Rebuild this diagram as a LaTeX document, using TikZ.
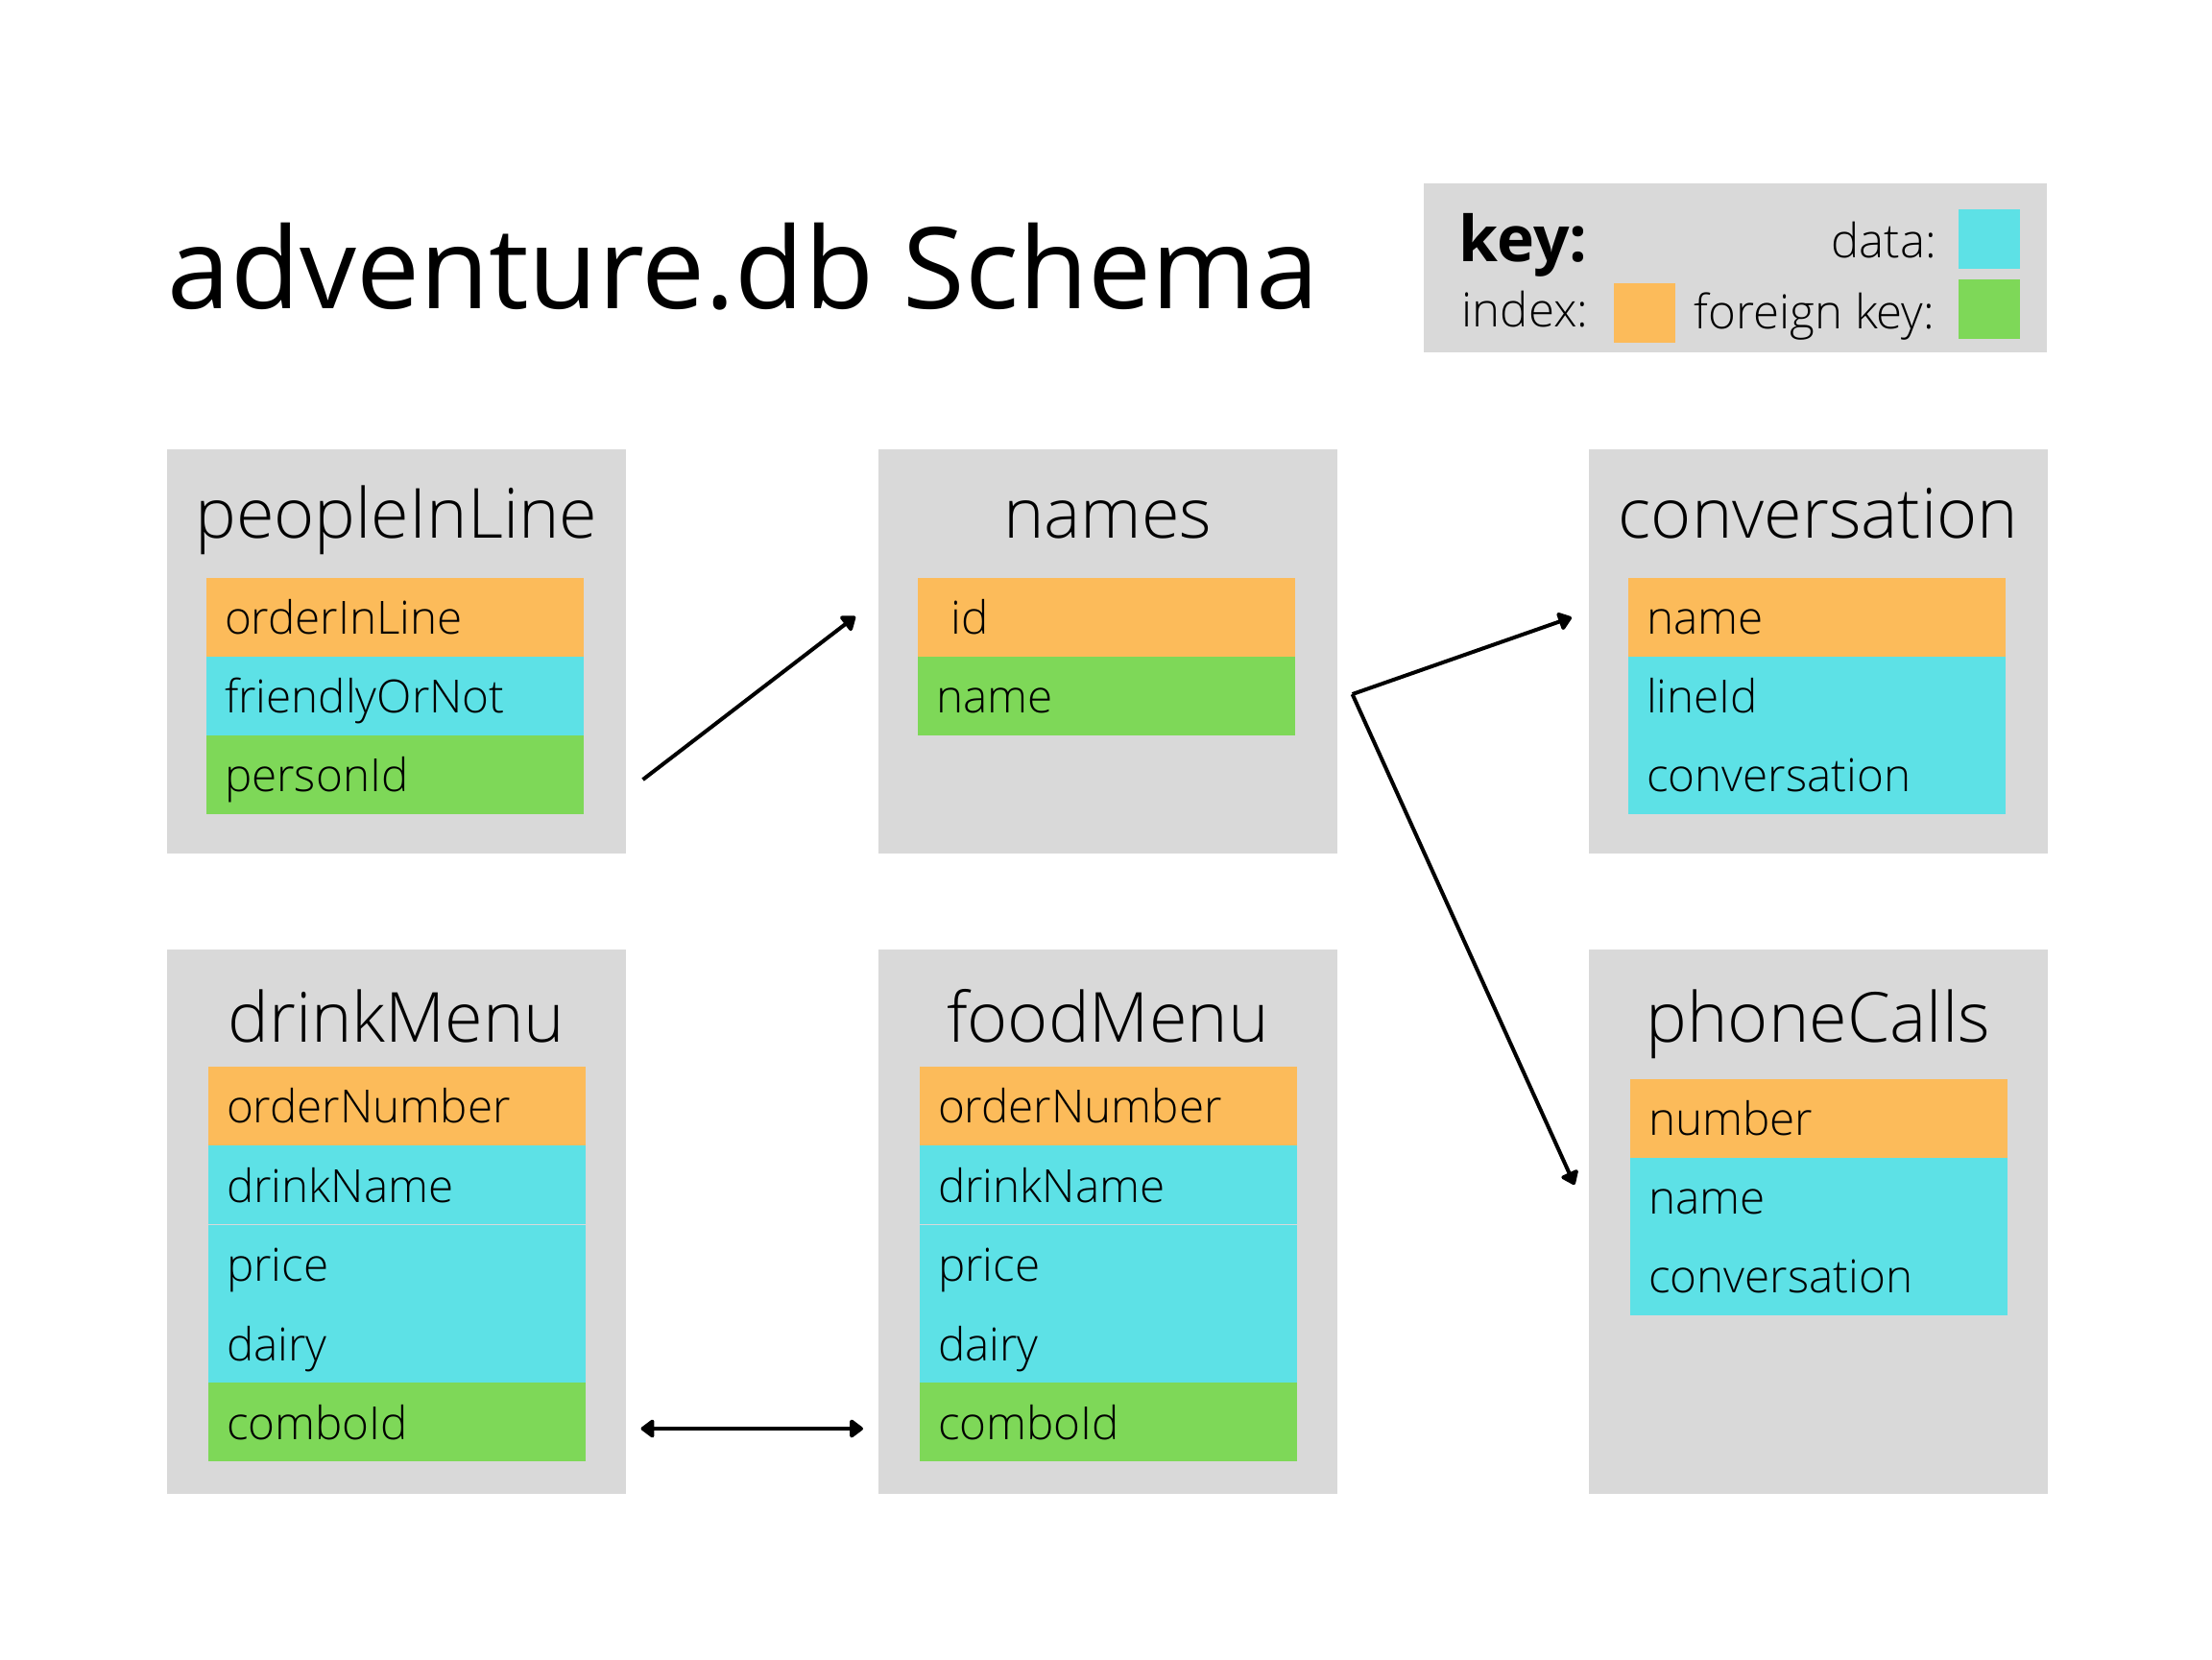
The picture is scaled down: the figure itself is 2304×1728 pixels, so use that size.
\documentclass[tikz,border=0pt]{standalone}
\usepackage{fontspec}
\setmainfont{Open Sans}
\newfontfamily\lightfont{Open Sans Light}
\usetikzlibrary{calc, arrows.meta}
\definecolor{boxgray}{HTML}{D9D9D9}
\definecolor{indexcolor}{HTML}{FCBB5A}
\definecolor{datacolor}{HTML}{5DE1E6}
\definecolor{fkeycolor}{HTML}{7ED858}

\begin{document}
\begin{tikzpicture}[x=0.25pt, y=-0.25pt,
    tablebox/.style={fill=boxgray, inner sep=0pt, anchor=north west, minimum width=119.5pt},
    tabletitle/.style={anchor=base, inner sep=0pt, font=\lightfont\fontsize{18}{20}\selectfont},
    field/.style={anchor=north west, inner xsep=4.8pt, inner ysep=0pt, minimum height=20.5pt,
        text width=88.65pt, align=left, text height=12pt, text depth=3pt,
        font=\lightfont\fontsize{11.9}{14}\selectfont},
    keytext/.style={inner sep=0pt, font=\lightfont\fontsize{12.3}{14}\selectfont},
    swatch/.style={anchor=north west, inner sep=0pt, minimum width=16pt, minimum height=15.5pt},
    link/.style={line width=1pt},
    >={Triangle[round, length=3.8pt, width=5.4pt]}]

    \useasboundingbox (0,0) rectangle (2304,1728);

    % Title
    \node[anchor=base west, inner sep=0pt, font=\fontsize{29.4}{32}\selectfont] (title) at (174,321) {adventure.db Schema};

    % Key
    \node[tablebox, minimum width=162.25pt, minimum height=44pt] (legend) at (1482,190) {};
    \node[anchor=base west, inner sep=0pt, font=\bfseries\fontsize{16.5}{18}\selectfont] (keyT) at (1519,272) {key:};
    \node[keytext, anchor=base east] (dataT) at (2018,268) {data:};
    \node[keytext, anchor=base west] (indexT) at (1522,340) {index:};
    \node[keytext, anchor=base east] (fkeyT) at (2016,342) {foreign key:};
    \node[swatch, fill=datacolor] (dataS) at (2039,217) {};
    \node[swatch, fill=indexcolor] (indexS) at (1680,294) {};
    \node[swatch, fill=fkeycolor] (fkeyS) at (2039,290) {};

    % Tables
    \node[tablebox, minimum height=105.25pt] (people) at (173,467) {};
    \node[tablebox, minimum height=105.25pt] (names) at (914,467) {};
    \node[tablebox, minimum height=105.25pt] (conv) at (1654,467) {};
    \node[tablebox, minimum height=141.75pt] (drink) at (173,988) {};
    \node[tablebox, minimum height=141.75pt] (food) at (914,988) {};
    \node[tablebox, minimum height=141.75pt] (phone) at (1654,988) {};

    \node[tabletitle] (peopleT) at ($(people.north)+(0,93)$) {peopleInLine};
    \node[tabletitle] (namesT) at ($(names.north)+(0,93)$) {names};
    \node[tabletitle] (convT) at ($(conv.north)+(0,93)$) {conversation};
    \node[tabletitle] (drinkT) at ($(drink.north)+(0,97)$) {drinkMenu};
    \node[tabletitle] (foodT) at ($(food.north)+(0,97)$) {foodMenu};
    \node[tabletitle] (phoneT) at ($(phone.north)+(0,97)$) {phoneCalls};

    % Fields
    \foreach \txt/\col [count=\i from 0] in {orderInLine/indexcolor, friendlyOrNot/datacolor, personId/fkeycolor}
        \node[field, fill=\col] (people-\i) at ($(people.north west)+(41,{134+82*\i})$) {\txt};
    \foreach \txt/\col [count=\i from 0] in {\ id/indexcolor, name/fkeycolor}
        \node[field, fill=\col] (names-\i) at ($(names.north west)+(41,{134+82*\i})$) {\txt};
    \foreach \txt/\col [count=\i from 0] in {name/indexcolor, lineId/datacolor, conversation/datacolor}
        \node[field, fill=\col] (conv-\i) at ($(conv.north west)+(41,{134+82*\i})$) {\txt};
    \foreach \tbl in {drink, food}
        \foreach \txt/\col [count=\i from 0] in {orderNumber/indexcolor, drinkName/datacolor, price/datacolor, dairy/datacolor, comboId/fkeycolor}
            \node[field, fill=\col] (\tbl-\i) at ($(\tbl.north west)+(43,{122+82.4*\i})$) {\txt};
    \foreach \txt/\col [count=\i from 0] in {number/indexcolor, name/datacolor, conversation/datacolor}
        \node[field, fill=\col] (phone-\i) at ($(phone.north west)+(43,{135+82*\i})$) {\txt};

    % Links
    \coordinate (peopleOut) at ($(people.north east)+(17,345)$);
    \coordinate (namesIn) at ($(names.north west)+(-23,175)$);
    \coordinate (namesOut) at ($(names.north east)+(15,256)$);
    \coordinate (convIn) at ($(conv.north west)+(-17,176)$);
    \coordinate (phoneIn) at ($(phone.north west)+(-14,246)$);
    \coordinate (drinkOut) at ($(drink.north east)+(15,500)$);
    \coordinate (foodIn) at ($(food.north west)+(-15,500)$);

    \draw[link, ->] (peopleOut) -- (namesIn);
    \draw[link, ->] (namesOut) -- (convIn);
    \draw[link, ->] (namesOut) -- (phoneIn);
    \draw[link, <->] (drinkOut) -- (foodIn);
\end{tikzpicture}
\end{document}
